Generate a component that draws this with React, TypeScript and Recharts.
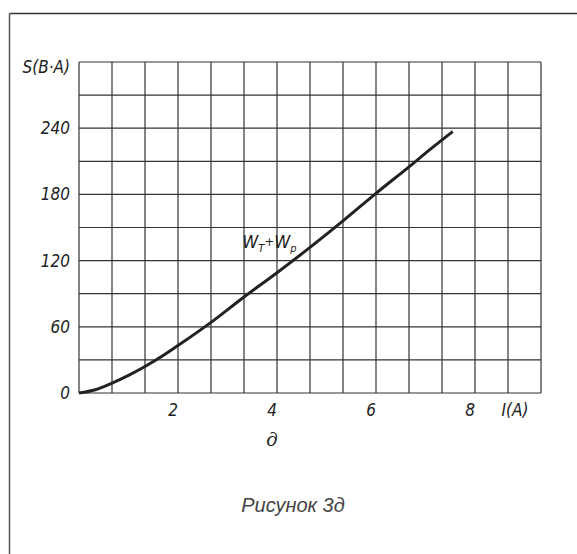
import { LineChart, Line, XAxis, YAxis, CartesianGrid, ReferenceDot } from "recharts";

// current I (A) and apparent power S (B·A)
const currentA = [0, 0.33, 0.667, 1.0, 1.333, 1.667, 2.0, 2.667, 3.333, 4.0, 4.667, 5.333, 6.0, 6.667, 7.1, 7.55];
const powerVA = [0, 3, 9, 16, 24, 33, 43, 64, 87, 109, 132, 156, 181, 205, 221, 237];

// grid: every 2/3 A horizontally, every 30 B·A vertically
const xTicks = [0, 2 / 3, 4 / 3, 2, 8 / 3, 10 / 3, 4, 14 / 3, 16 / 3, 6, 20 / 3, 22 / 3, 8, 26 / 3, 28 / 3];
const yTicks = [0, 30, 60, 90, 120, 150, 180, 210, 240, 270, 300];
const xLabels: [number, string][] = [[2, "2"], [4, "4"], [6, "6"], [8, "8"], [26 / 3, "I(A)"]];
const yLabels: [number, string][] = [[0, "0"], [60, "60"], [120, "120"], [180, "180"], [240, "240"], [300, "S(B·A)"]];

const data = currentA.map((i, k) => ({ i, s: powerVA[k] }));

const FONT = "'Liberation Sans Narrow', 'DejaVu Sans Condensed', sans-serif";
const INK = "#222";

const findLabel = (list: [number, string][], v: number) => {
  const hit = list.find(([t]) => Math.abs(t - v) < 1e-6);
  return hit ? hit[1] : null;
};

function XTick(props: any) {
  const { x, payload } = props;
  const label = findLabel(xLabels, payload.value);
  if (!label) return null;
  const dx = label === "I(A)" ? 7 : -5;
  return (
    <text x={x + dx} y={416} textAnchor="middle" fontFamily={FONT} fontStyle="italic" fontSize={17} fill={INK}>
      {label}
    </text>
  );
}

function YTick(props: any) {
  const { y, payload } = props;
  const label = findLabel(yLabels, payload.value);
  if (!label) return null;
  const dy = label === "S(B·A)" ? 5 : 0;
  return (
    <text x={70} y={y + dy} dy="0.35em" textAnchor="end" fontFamily={FONT} fontStyle="italic" fontSize={17} fill={INK}>
      {label}
    </text>
  );
}

function CurveName(props: any) {
  const { cx, cy } = props;
  return (
    <text x={cx} y={cy} fontFamily={FONT} fontStyle="italic" fontSize={18} fill={INK}>
      W<tspan fontSize={11} dy={4}>T</tspan>
      <tspan fontSize={13} dy={-6}>+</tspan>
      <tspan dy={2}>W</tspan>
      <tspan fontSize={11} dy={4}>p</tspan>
    </text>
  );
}

export default function App() {
  return (
    <div style={{ position: "absolute", left: 0, top: 0, width: 577, height: 554, background: "#fff" }}>
      <svg width={577} height={554} style={{ position: "absolute", left: 0, top: 0 }}>
        <line x1={9.5} y1={13.5} x2={577} y2={13.5} stroke="#333" strokeWidth={1.5} />
        <line x1={9.5} y1={13.5} x2={9.5} y2={554} stroke="#555" strokeWidth={1.5} />
        <text x={272} y={446} textAnchor="middle" fontFamily="'DejaVu Serif', serif" fontStyle="italic" fontSize={18} fill={INK}>
          д
        </text>
        <text x={293} y={512} textAnchor="middle" fontFamily="'Liberation Sans', Arial, sans-serif" fontStyle="italic" fontSize={20} fill="#444">
          Рисунок 3д
        </text>
      </svg>
      <div style={{ position: "absolute", left: 0, top: 0 }}>
        <LineChart width={577} height={554} data={data} margin={{ top: 62, right: 36, bottom: 121, left: 0 }}>
          <CartesianGrid stroke="#333" strokeWidth={1.2} />
          <XAxis
            dataKey="i"
            type="number"
            domain={[0, 28 / 3]}
            ticks={xTicks}
            interval={0}
            axisLine={false}
            tickLine={false}
            height={40}
            tick={<XTick />}
          />
          <YAxis
            type="number"
            domain={[0, 300]}
            ticks={yTicks}
            interval={0}
            axisLine={false}
            tickLine={false}
            width={79}
            tick={<YTick />}
          />
          <Line
            type="monotone"
            dataKey="s"
            stroke={INK}
            strokeWidth={3}
            dot={false}
            isAnimationActive={false}
          />
          <ReferenceDot x={3.3} y={131} r={0} ifOverflow="visible" shape={<CurveName />} />
        </LineChart>
      </div>
    </div>
  );
}
